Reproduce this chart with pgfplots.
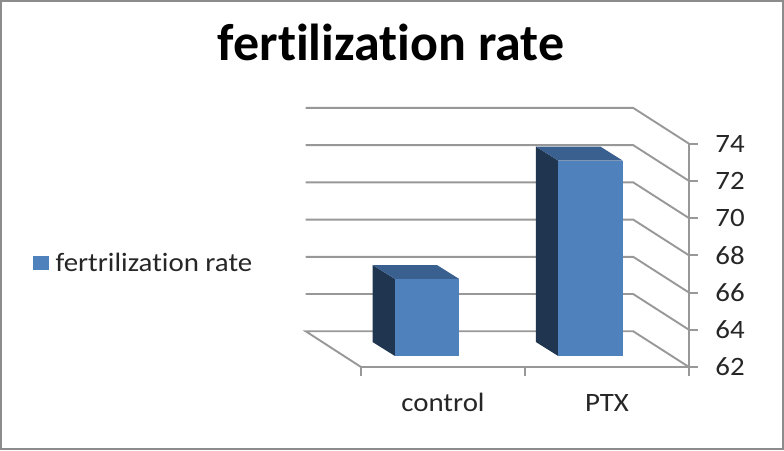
\documentclass[border=0pt]{standalone}
\usepackage{fontspec}
\setmainfont[Ligatures=NoCommon]{Carlito}
\newfontfamily\widefont[Ligatures=NoCommon, FakeStretch=1.09]{Carlito}
\usepackage{pgfplots}
\usepackage{pgfplotstable}
\pgfplotsset{compat=1.18}

\definecolor{frontblue}{HTML}{4F81BD}
\definecolor{sideblue}{HTML}{1F3550}
\definecolor{topblue}{HTML}{3A6090}
\definecolor{gridgray}{HTML}{989898}
\definecolor{framegray}{HTML}{8C8C8C}

% bar corners: d=0 front plane, d=1 back plane
\pgfplotstableread{
x y d
0.207 62 0
0.599 62 0
0.599 66.14 0
0.207 66.14 0
}\controlfront
\pgfplotstableread{
x y d
0.207 62 0
0.207 66.14 0
0.207 66.14 1
0.207 62 1
}\controlside
\pgfplotstableread{
x y d
0.207 66.14 0
0.207 66.14 1
0.599 66.14 1
0.599 66.14 0
}\controltop
\pgfplotstableread{
x y d
1.203 62 0
1.596 62 0
1.596 72.5 0
1.203 72.5 0
}\ptxfront
\pgfplotstableread{
x y d
1.203 62 0
1.203 72.5 0
1.203 72.5 1
1.203 62 1
}\ptxside
\pgfplotstableread{
x y d
1.203 72.5 0
1.203 72.5 1
1.596 72.5 1
1.596 72.5 0
}\ptxtop

\newcommand{\barface}[2]{\addplot[fill=#1, draw=none, mark=none, forget plot]
  table[x expr=\thisrow{x}-0.136*\thisrow{d}, y expr=\thisrow{y}+0.59+0.75*\thisrow{d}] {#2} -- cycle;}

\begin{document}
\begin{tikzpicture}
\begin{axis}[
    scale only axis,
    width=328pt, height=223.4pt,
    xmin=0, xmax=2, ymin=62, ymax=74,
    clip=false,
    axis x line*=bottom,
    axis y line*=right,
    axis line style={gridgray, line width=1.9pt},
    tick align=outside,
    major tick length=9pt,
    minor tick length=9pt,
    tick style={gridgray, line width=1.9pt},
    xtick={0.5,1.5},
    xticklabels={control,PTX},
    minor xtick={0,1,2},
    major x tick style={draw=none},
    ytick={62,64,...,74},
    /pgf/number format/assume math mode=true,
    tick label style={font=\fontsize{26.5}{30}\widefont, text=black!85},
    x tick label style={anchor=base, yshift=-35pt},
    y tick label style={xshift=14pt},
    title={fertilization rate},
    title style={at={(0.0915,1.347)}, anchor=base, font=\fontsize{52}{58}\selectfont\bfseries},
    legend style={at={(-1,0.4664)}, anchor=west, draw=none, fill=none, inner sep=0pt,
      font=\fontsize{26.5}{30}\widefont, text=black!85,
      /tikz/every odd column/.append style={column sep=5pt}},
    legend cell align=left,
    legend image code/.code={\fill[frontblue] (0cm,-6.5pt) rectangle (15pt,6.5pt);},
    wall/.style={gridgray, line width=1.9pt, mark=none, forget plot},
]
% back wall, side wall and floor
\addplot[wall] coordinates {(0,62)(-0.337,63.92)(1.66,63.92)(2,62)};
\addplot[wall] coordinates {(-0.337,65.92)(1.66,65.92)(2,64)};
\addplot[wall] coordinates {(-0.337,67.92)(1.66,67.92)(2,66)};
\addplot[wall] coordinates {(-0.337,69.92)(1.66,69.92)(2,68)};
\addplot[wall] coordinates {(-0.337,71.92)(1.66,71.92)(2,70)};
\addplot[wall] coordinates {(-0.337,73.92)(1.66,73.92)(2,72)};
\addplot[wall] coordinates {(-0.337,75.92)(1.66,75.92)(2,74)};
% bars
\barface{sideblue}{\controlside}
\barface{topblue}{\controltop}
\barface{frontblue}{\controlfront}
\barface{sideblue}{\ptxside}
\barface{topblue}{\ptxtop}
\barface{frontblue}{\ptxfront}
% legend entry only
\addlegendimage{frontblue}
\addlegendentry{fertrilization rate}
% outer frame of the picture
\draw[framegray, line width=2.5pt] (axis cs:-2.194,57.586) rectangle (axis cs:2.572,81.65);
\end{axis}
\end{tikzpicture}
\end{document}
